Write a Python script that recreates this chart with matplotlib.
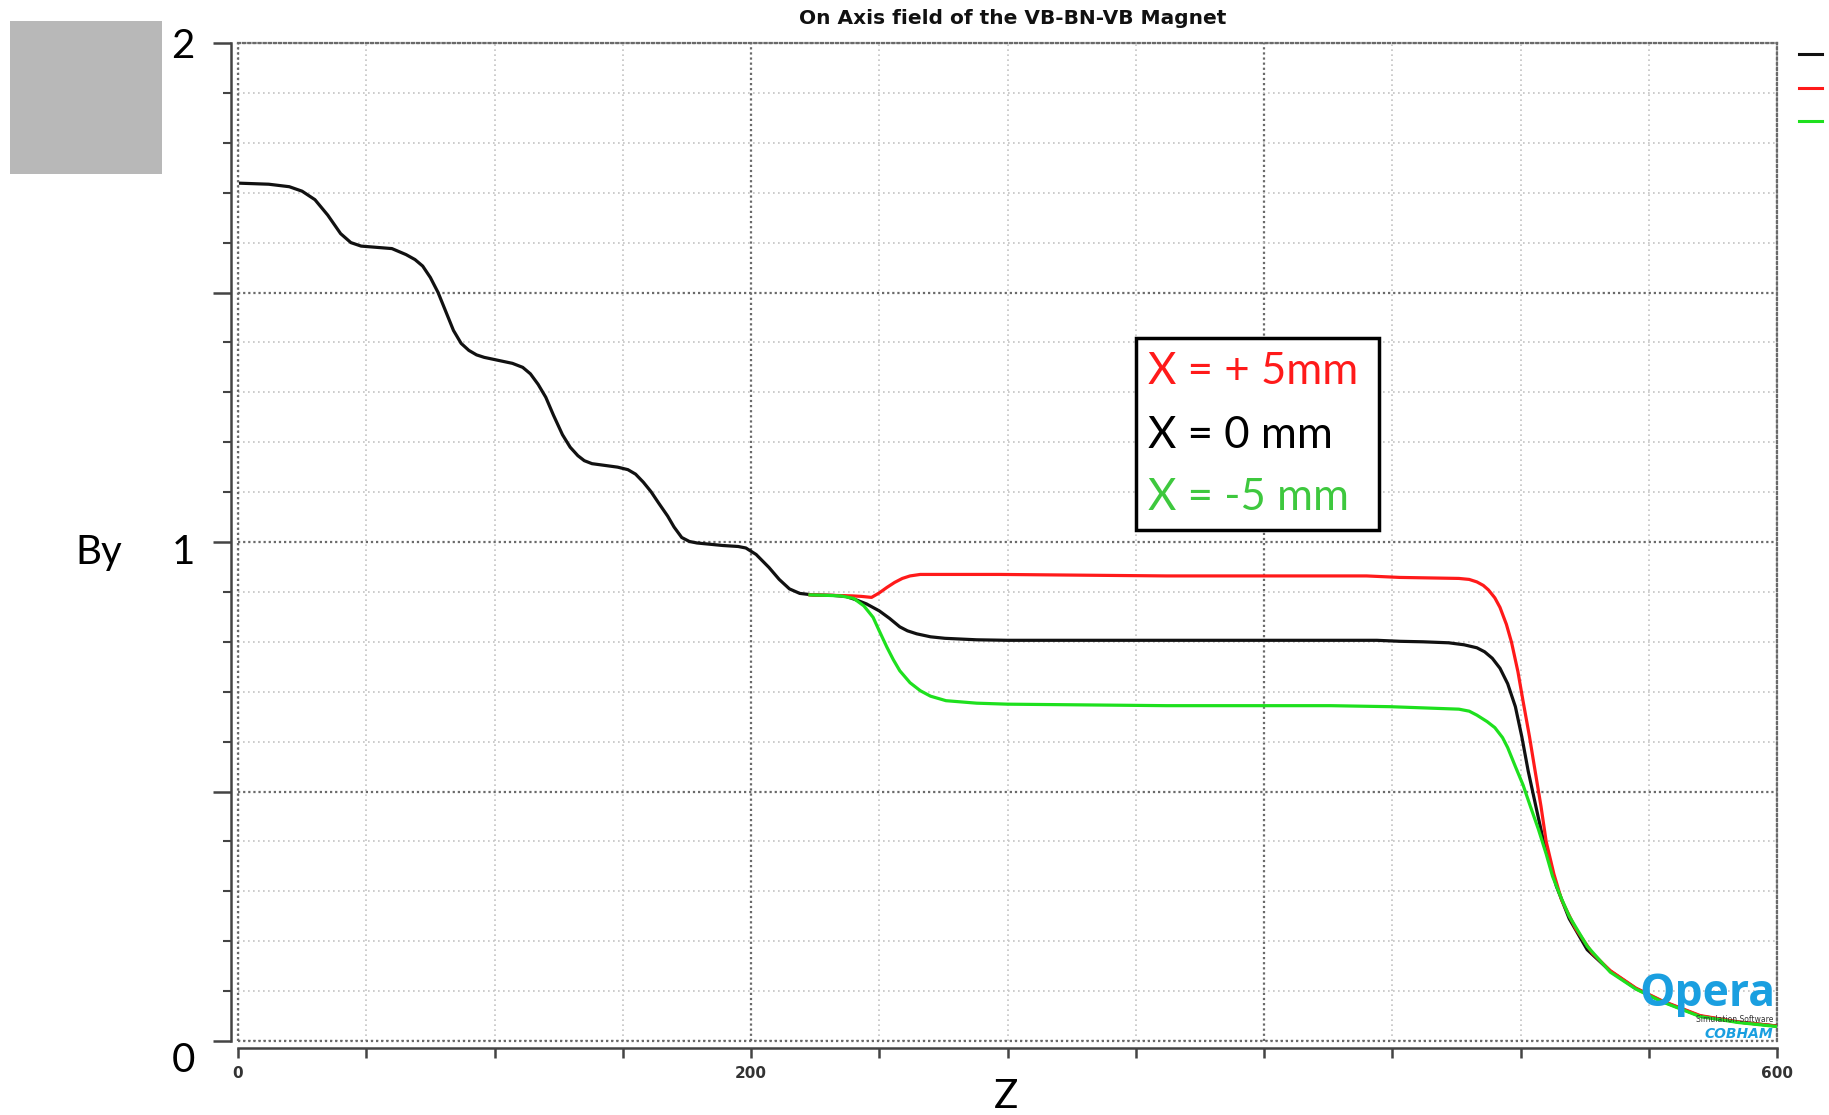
import matplotlib
matplotlib.use("Agg")
import matplotlib.pyplot as plt
from matplotlib.lines import Line2D
from matplotlib.patches import Rectangle
import numpy as np

# on-axis field By vs Z
z_0mm = [1, 12, 20, 25, 30, 35, 40, 44, 48, 60, 65.5, 69, 72, 75, 78, 81, 84, 87, 90, 93,
         96, 107, 111, 114, 117, 120, 123, 126.5, 129.5, 132.5, 135, 138, 148, 152, 155, 158,
         161, 164, 167.5, 170, 173, 176, 179, 189, 195, 198, 202, 207, 211, 215, 219, 224,
         232, 237, 241, 245, 250, 254, 258, 261, 264.6, 270, 275.6, 288, 300, 362, 444, 453,
         462, 472, 478, 483, 486, 489, 492, 495, 498, 500.5, 503, 506, 509, 514, 519, 526,
         535, 545, 555, 570, 585, 600]
by_0mm = [1.719, 1.717, 1.712, 1.703, 1.686, 1.655, 1.618, 1.600, 1.593, 1.588, 1.576, 1.566,
          1.553, 1.530, 1.500, 1.462, 1.424, 1.398, 1.384, 1.375, 1.370, 1.358, 1.350, 1.337,
          1.316, 1.290, 1.254, 1.215, 1.190, 1.173, 1.163, 1.157, 1.150, 1.145, 1.136, 1.120,
          1.101, 1.078, 1.052, 1.030, 1.009, 1.001, 0.998, 0.993, 0.991, 0.988, 0.975, 0.949,
          0.925, 0.906, 0.897, 0.894, 0.893, 0.891, 0.884, 0.876, 0.862, 0.847, 0.830, 0.822,
          0.816, 0.810, 0.807, 0.804, 0.803, 0.803, 0.803, 0.801, 0.800, 0.798, 0.794, 0.788,
          0.780, 0.767, 0.747, 0.716, 0.670, 0.610, 0.541, 0.470, 0.400, 0.310, 0.245, 0.183,
          0.140, 0.105, 0.080, 0.050, 0.038, 0.030]

z_p5mm = [223, 232, 239.5, 243, 247, 250, 253, 256, 259, 262, 266, 271, 297, 362, 440, 453,
          476, 480, 483, 485.5, 487.5, 490, 492, 494.5, 496.5, 499, 501, 503.5, 505.7, 508,
          510, 513, 516, 521.5, 528, 535, 545, 555, 570, 585, 600]
by_p5mm = [0.894, 0.893, 0.892, 0.891, 0.889, 0.898, 0.909, 0.919, 0.927, 0.932, 0.935, 0.935,
           0.935, 0.932, 0.932, 0.929, 0.927, 0.925, 0.920, 0.913, 0.904, 0.888, 0.869, 0.835,
           0.799, 0.740, 0.681, 0.610, 0.541, 0.470, 0.400, 0.335, 0.283, 0.225, 0.176, 0.141,
           0.106, 0.081, 0.051, 0.038, 0.030]

z_m5mm = [223, 230, 235, 240, 244, 247.6, 250, 253, 255.5, 258, 262, 266, 270, 276, 288, 300,
          362, 426, 449, 476, 480, 483, 487, 490, 493, 495, 498, 501, 504, 507, 510, 512.5,
          516, 519, 526, 535, 545, 555, 570, 585, 600]
by_m5mm = [0.894, 0.893, 0.892, 0.887, 0.872, 0.849, 0.822, 0.789, 0.764, 0.742, 0.718, 0.702,
           0.691, 0.682, 0.677, 0.675, 0.672, 0.672, 0.670, 0.665, 0.661, 0.653, 0.640, 0.628,
           0.608, 0.588, 0.550, 0.513, 0.468, 0.424, 0.375, 0.330, 0.285, 0.250, 0.190, 0.138,
           0.104, 0.079, 0.049, 0.037, 0.029]

W, H = 1829, 1115
fig = plt.figure(figsize=(W / 100, H / 100), dpi=100)
ax = fig.add_axes([238 / W, 1 - 1041 / H, (1777 - 238) / W, (1041 - 43) / H])

ax.plot(z_0mm, by_0mm, color="#111111", lw=2.3, zorder=5)
ax.plot(z_p5mm, by_p5mm, color="#ff1a1a", lw=2.3, zorder=6)
ax.plot(z_m5mm, by_m5mm, color="#1ee01e", lw=2.3, zorder=7)

ax.set_xlim(0, 600)
ax.set_ylim(0, 2)

# grid: light dotted minor, darker dotted major
ax.set_xticks([0, 200, 400, 600])
ax.set_xticklabels(["0", "200", "", "600"])
ax.set_xticks(np.arange(0, 601, 50), minor=True)
ax.set_yticks(np.arange(0, 2.01, 0.5))
ax.set_yticklabels([])
ax.set_yticks(np.arange(0, 2.01, 0.1), minor=True)
ax.grid(which="minor", color="#c4c4c4", linestyle=(0, (1, 2)), lw=1.2)
ax.grid(which="major", color="#6a6a6a", linestyle=(0, (1, 1.3)), lw=1.6)
ax.set_axisbelow(True)

for s in ["top", "right"]:
    ax.spines[s].set_linestyle((0, (1, 1.3)))
    ax.spines[s].set_color("#6a6a6a")
    ax.spines[s].set_linewidth(1.6)
ax.axvline(0, color="#6a6a6a", ls=(0, (1, 1.3)), lw=1.6, clip_on=False, zorder=1)
ax.axhline(0, color="#6a6a6a", ls=(0, (1, 1.3)), lw=1.6, clip_on=False, zorder=1)
ax.spines["left"].set_position(("outward", 5))
ax.spines["bottom"].set_position(("outward", 5))
for s in ["left", "bottom"]:
    ax.spines[s].set_color("#444444")
    ax.spines[s].set_linewidth(1.8)

ax.tick_params(axis="y", which="major", length=13, width=1.8, color="#444444")
ax.tick_params(axis="y", which="minor", length=6, width=1.5, color="#444444")
ax.tick_params(axis="x", which="both", length=7, width=1.8, color="#444444",
               labelsize=11, labelcolor="#333333", pad=6)
for lab in ax.get_xticklabels():
    lab.set_fontweight("bold")

fig.text(1013 / W, 1 - 19 / H, "On Axis field of the VB-BN-VB Magnet", ha="center",
         va="center", fontsize=14.5, fontweight="bold", color="#111111")

big = dict(family="Lato", fontsize=29, color="black", va="center", ha="center")
fig.text(183 / W, 1 - 47 / H, "2", **big)
fig.text(183 / W, 1 - 553 / H, "1", **big)
fig.text(183 / W, 1 - 1061 / H, "0", **big)
fig.text(99 / W, 1 - 553 / H, "By", **big)
fig.text(1006 / W, 1 - 1097 / H, "Z", **big)

# grey box top left
fig.add_artist(Rectangle((10 / W, 1 - 174 / H), 152 / W, 153 / H, transform=fig.transFigure,
                         facecolor="#b8b8b8", edgecolor="none"))

# annotation box
fig.add_artist(Rectangle((1136 / W, 1 - 530 / H), 243 / W, 192 / H, transform=fig.transFigure,
                         facecolor="white", edgecolor="black", lw=2.5, zorder=10))
leg = dict(family="Lato", fontsize=31.5, va="center", ha="left", zorder=11)
fig.text(1148 / W, 1 - 372 / H, "X = + 5mm", color="#ff1a1a", **leg)
fig.text(1148 / W, 1 - 436 / H, "X = 0 mm", color="black", **leg)
fig.text(1148 / W, 1 - 498 / H, "X = -5 mm", color="#3ec83e", **leg)

# little legend lines at top right
for yy, c in [(54, "#111111"), (88, "#ff1a1a"), (121, "#1ee01e")]:
    fig.add_artist(Line2D([1799 / W, 1822 / W], [1 - yy / H, 1 - yy / H], color=c, lw=2.2))

# Opera logo
fig.text(1775 / W, 1 - 1006 / H, "Opera", family="Open Sans", fontweight="bold",
         fontsize=32, color="#1a9fe0", ha="right", va="baseline", zorder=2)
fig.text(1773 / W, 1 - 1019 / H, "Simulation Software", fontsize=5.5, color="#333333",
         ha="right", va="center", zorder=2)
fig.text(1773 / W, 1 - 1034 / H, "COBHAM", fontsize=10, fontweight="bold", style="italic",
         color="#1a9fe0", ha="right", va="center", zorder=2)

fig.savefig("out.png", dpi=100)
